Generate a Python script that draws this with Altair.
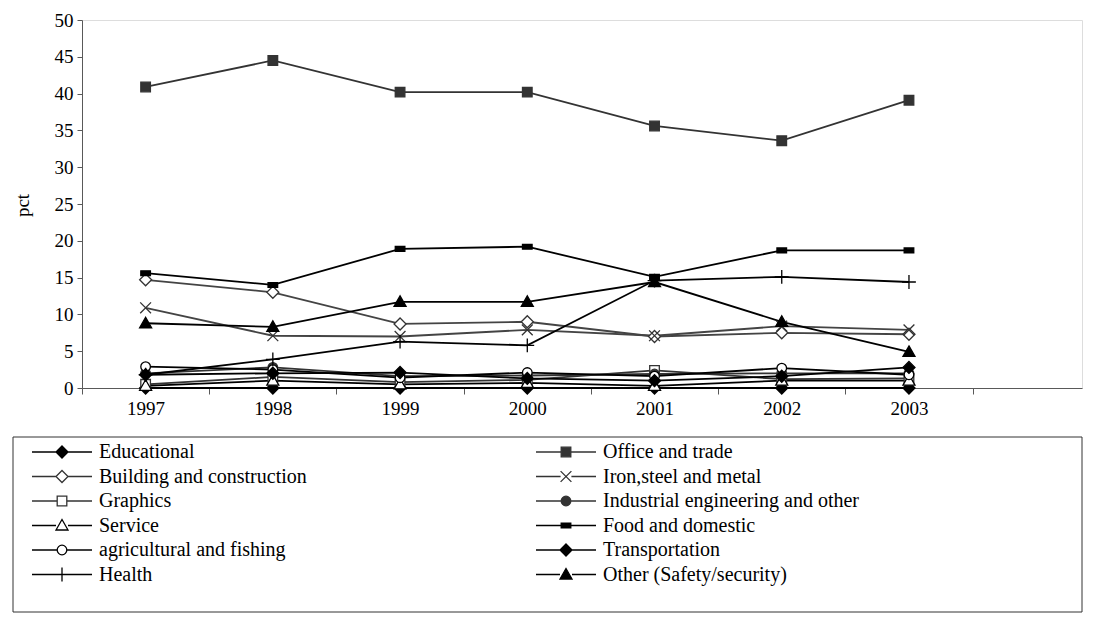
import altair as alt
import pandas as pd

years = ["1997", "1998", "1999", "2000", "2001", "2002", "2003"]
series = [
    "Educational", "Office and trade",
    "Building and construction", "Iron,steel and metal",
    "Graphics", "Industrial engineering and other",
    "Service", "Food and domestic",
    "agricultural and fishing", "Transportation",
    "Health", "Other (Safety/security)",
]

educational = [0, 0, 0, 0, 0, 0, 0]
office = [40.9, 44.5, 40.2, 40.2, 35.6, 33.6, 39.1]
building = [14.7, 13.0, 8.7, 9.0, 7.0, 7.5, 7.3]
iron = [10.9, 7.1, 7.0, 7.9, 7.1, 8.4, 7.9]
graphics = [0.5, 1.5, 0.8, 1.1, 2.4, 1.2, 1.3]
industrial = [2.0, 2.8, 1.6, 1.7, 1.9, 2.0, 2.0]
service = [0.3, 1.0, 0.5, 0.7, 0.3, 1.0, 1.0]
food = [15.6, 14.0, 18.9, 19.2, 15.1, 18.7, 18.7]
agri = [2.9, 2.5, 1.4, 2.1, 1.6, 2.7, 1.8]
transport = [1.8, 2.0, 2.1, 1.3, 1.0, 1.6, 2.8]
health = [1.8, 3.9, 6.3, 5.8, 14.6, 15.1, 14.4]
other = [8.8, 8.3, 11.7, 11.7, 14.4, 9.0, 4.9]

values = [educational, office, building, iron, graphics, industrial,
          service, food, agri, transport, health, other]

# legend reads row by row in two columns; Vega fills column by column
legend_order = series[0::2] + series[1::2]

# style per series: marker kind, fill, stroke (marker), line colour
styles = {
    "Educational": ("diamond", "#000000", "#000000", "#000000"),
    "Office and trade": ("square", "#333333", "#333333", "#333333"),
    "Building and construction": ("diamond", "#ffffff", "#333333", "#444444"),
    "Iron,steel and metal": ("x", "#ffffff", "#333333", "#444444"),
    "Graphics": ("square", "#ffffff", "#333333", "#333333"),
    "Industrial engineering and other": ("circle", "#333333", "#333333", "#333333"),
    "Service": ("triangle", "#ffffff", "#000000", "#000000"),
    "Food and domestic": ("dash", "#000000", "#000000", "#000000"),
    "agricultural and fishing": ("circle", "#ffffff", "#000000", "#000000"),
    "Transportation": ("diamond", "#000000", "#000000", "#000000"),
    "Health": ("plus", "#000000", "#000000", "#000000"),
    "Other (Safety/security)": ("triangle", "#000000", "#000000", "#000000"),
}

marker_paths = {
    "diamond": ("M0,-1L1,0L0,1L-1,0Z", 1.0),
    "square": ("M-0.8,-0.8H0.8V0.8H-0.8Z", 0.8),
    "circle": ("M0.8,0A0.8,0.8,0,1,1,-0.8,0A0.8,0.8,0,1,1,0.8,0Z", 0.8),
    "triangle": ("M0,-1L1,0.75L-1,0.75Z", 1.0),
    "x": ("M-0.9,-0.9L0.9,0.9M-0.9,0.9L0.9,-0.9", 0.9),
    "plus": ("M-1.15,0H1.15M0,-1.15V1.15", 0.0),
    "dash": ("M-0.8,-0.4H0.8V0.4H-0.8Z", 0.0),
}


def legend_path(kind):
    p, e = marker_paths[kind]
    if e == 0:
        return "M-5,0H5" + p
    return f"M-5,0H{-e}M{e},0H5" + p


rows = []
for s, vals in zip(series, values):
    for yr, v in zip(years, vals):
        rows.append({"series": s, "year": yr, "pct": v})
df = pd.DataFrame(rows)

shape_range = [marker_paths[styles[s][0]][0] for s in series]
fill_range = [styles[s][1] for s in series]
stroke_range = [styles[s][2] for s in series]
line_range = [styles[s][3] for s in series]

leg_shape_range = [legend_path(styles[s][0]) for s in legend_order]
leg_fill_range = [styles[s][1] for s in legend_order]
leg_stroke_range = [styles[s][2] for s in legend_order]

FONT = "Liberation Serif"

x_enc = alt.X(
    "year:O",
    scale=alt.Scale(type="band", domain=years, paddingInner=0,
                    paddingOuter=0.43, align=0),
    axis=alt.Axis(title=None, tickBand="extent", tickSize=6, labelAngle=0,
                  labelPadding=5, labelFont=FONT, labelFontSize=19,
                  labelColor="black", domainColor="#595959",
                  tickColor="#595959", grid=False),
)
y_enc = alt.Y(
    "pct:Q",
    scale=alt.Scale(domain=[0, 50]),
    axis=alt.Axis(title="pct", values=list(range(0, 51, 5)), tickSize=5,
                  labelPadding=4, labelFont=FONT, labelFontSize=19,
                  labelColor="black", domainColor="#595959",
                  tickColor="#595959", grid=False, titleFont=FONT,
                  titleFontSize=19, titleFontWeight="normal",
                  titleColor="black", titleAngle=270, titleX=-60,
                  titleY=185, titleAlign="center", titleBaseline="middle"),
)

base = alt.Chart(df)

lines = base.mark_line(strokeWidth=1.8).encode(
    x=x_enc, y=y_enc,
    detail="series:N",
    color=alt.Color("series:N", scale=alt.Scale(domain=series, range=line_range),
                    legend=None),
)

points = base.mark_point(size=144, strokeWidth=1.3, opacity=1).encode(
    x=x_enc, y=y_enc,
    shape=alt.Shape("series:N", scale=alt.Scale(domain=series, range=shape_range),
                    legend=None),
    fill=alt.Fill("series:N", scale=alt.Scale(domain=series, range=fill_range),
                  legend=None),
    stroke=alt.Stroke("series:N", scale=alt.Scale(domain=series, range=stroke_range),
                      legend=None),
)

leg = alt.Legend(title=None, orient="none", legendX=-54, legendY=422,
                 columns=2, symbolSize=144, symbolStrokeWidth=1.3,
                 symbolOffset=24, labelOffset=27, labelFont=FONT,
                 labelFontSize=20, labelColor="black", labelLimit=0,
                 columnPadding=225, rowPadding=4.5, padding=0)

legend_layer = base.mark_point(size=144, strokeWidth=1.3, opacity=1,
                               clip=True).encode(
    x=alt.value(-400), y=alt.value(-400),
    shape=alt.Shape("series:N",
                    scale=alt.Scale(domain=legend_order, range=leg_shape_range),
                    legend=leg),
    fill=alt.Fill("series:N",
                  scale=alt.Scale(domain=legend_order, range=leg_fill_range),
                  legend=leg),
    stroke=alt.Stroke("series:N",
                      scale=alt.Scale(domain=legend_order, range=leg_stroke_range),
                      legend=leg),
)

frame = alt.Chart(pd.DataFrame({"k": [0]})).mark_rect(
    fillOpacity=0, stroke="#333333", strokeWidth=1
).encode(x=alt.value(-69), x2=alt.value(1000), y=alt.value(417),
         y2=alt.value(592))

chart = alt.layer(frame, lines, points, legend_layer).resolve_scale(
    shape="independent", fill="independent", stroke="independent"
).properties(
    width=1000, height=368,
    autosize=alt.AutoSizeParams(type="none"),
    padding={"left": 74, "top": 12, "right": 6, "bottom": 225},
).configure_view(stroke=None).configure_legend(
    labelFont=FONT, labelFontSize=20
).configure(background="white", font=FONT)

chart.save("out.html", embed_options={"renderer": "svg", "actions": False})
